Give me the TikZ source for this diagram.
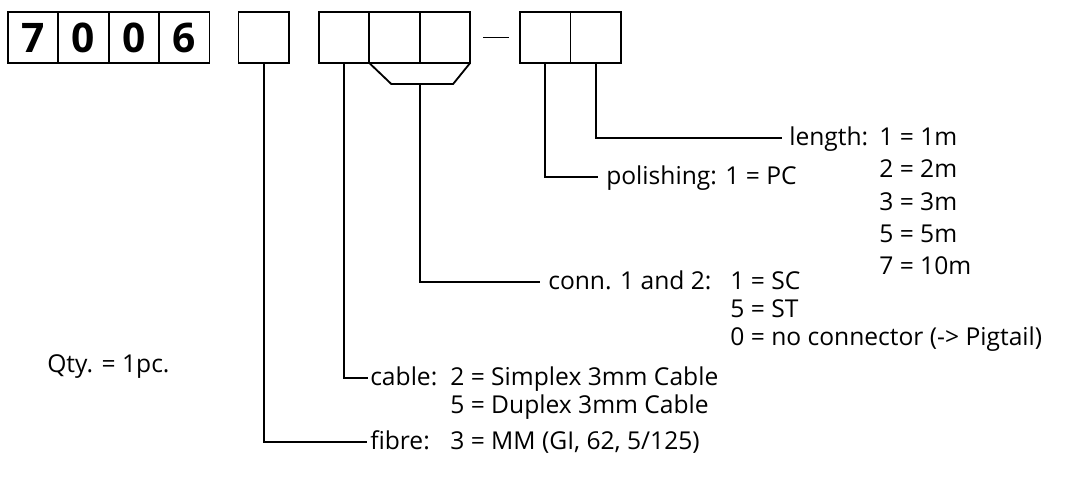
\documentclass[tikz,border=0pt]{standalone}
\usepackage{fontspec}
\setmainfont{Open Sans}
\usetikzlibrary{positioning}

\begin{document}
\begin{tikzpicture}[x=0.025cm, y=-0.025cm,
        cell/.style={draw, line width=1.3pt, minimum width=1.26cm, minimum height=1.275cm, inner sep=0pt, outer sep=0pt, font=\fontsize{29}{29}\selectfont\bfseries},
        lead/.style={line width=1.3pt},
        lbl/.style={anchor=base west, inner sep=0pt, font=\fontsize{17.5}{19.9}\selectfont}
      ]
        \useasboundingbox (0,0) rectangle (1072,477);
        % article number
        \node[cell] (n1) at (33,37.5) {7};
        \node[cell,right=0pt of n1] (n2) {0};
        \node[cell,right=0pt of n2] (n3) {0};
        \node[cell,right=0pt of n3] (n4) {6};
        \node[cell,right=0.725cm of n4] (fb) {};
        \node[cell,right=0.75cm of fb] (cb) {};
        \node[cell,right=0pt of cb] (k1) {};
        \node[cell,right=0pt of k1] (k2) {};
        \node[cell,right=1.25cm of k2] (po) {};
        \node[cell,right=0pt of po] (ln) {};
        \draw[lead] ([xshift=0.325cm]k2.east) -- ([xshift=-0.275cm]po.west);
        % both connector cells
        \coordinate (kl) at ([shift={(22,21)}]k1.south west);
        \coordinate (kr) at ([shift={(-17,21)}]k2.south east);
        \coordinate (km) at (k1.south east |- kl);
        \draw[lead] (k1.south west) -- (kl) -- (kr) -- (k2.south east);
        % labels
        \node[lbl,font=\fontsize{17.5}{22.76}\selectfont] (len) at (789,146) {\begin{tabular}[t]{@{}p{2.25cm}@{}l@{}}
            length: & 1 = 1m\\ & 2 = 2m\\ & 3 = 3m\\ & 5 = 5m\\ & 7 = 10m\end{tabular}};
        \node[lbl] (pol) at (606,185) {polishing: 1 = PC};
        \node[lbl] (con) at (548,290) {\begin{tabular}[t]{@{}p{4.55cm}@{}l@{}}
            conn. 1 and 2: & 1 = SC\\ & 5 = ST\\ & 0 = no connector (-> Pigtail)\end{tabular}};
        \node[lbl] (cab) at (370,386) {\begin{tabular}[t]{@{}p{2cm}@{}l@{}}
            cable: & 2 = Simplex 3mm Cable\\ & 5 = Duplex 3mm Cable\end{tabular}};
        \node[lbl] (fib) at (370,450) {\begin{tabular}[t]{@{}p{2cm}@{}l@{}}
            fibre: & 3 = MM (GI, 62, 5/125)\end{tabular}};
        \node[lbl] (qty) at (47,373) {Qty. = 1pc.};
        % leads
        \draw[lead] (ln.south) |- ([shift={(-7,-8)}]len.base west);
        \draw[lead] (po.south) |- ([shift={(-8,-8)}]pol.base west);
        \draw[lead] (km) |- ([shift={(-8,-8)}]con.base west);
        \draw[lead] (cb.south) |- ([shift={(-2,-8)}]cab.base west);
        \draw[lead] (fb.south) |- ([shift={(-3,-8)}]fib.base west);
      \end{tikzpicture}
\end{document}
